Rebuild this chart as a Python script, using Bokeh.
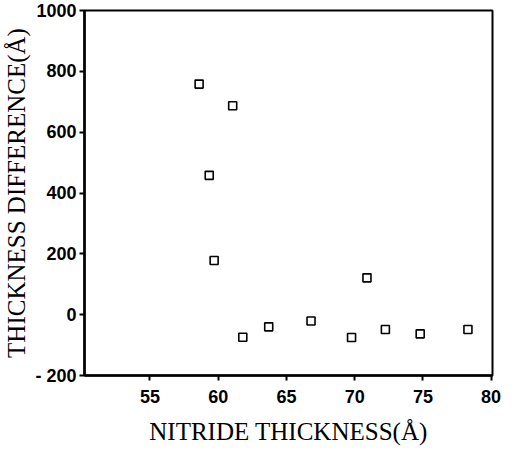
from bokeh.plotting import figure
from bokeh.models import ColumnDataSource, FixedTicker, Range1d
from bokeh.embed import file_html
from bokeh.resources import INLINE

nitride = [58.6, 61.06, 59.34, 59.7, 61.8, 63.7, 66.8, 69.77, 70.9, 72.25, 74.8, 78.3]
difference = [758, 687, 458, 178, -74, -40, -21, -75, 121, -49, -63, -49]
x_ticks = [55, 60, 65, 70, 75, 80]
y_ticks = [-200, 0, 200, 400, 600, 800, 1000]

src = ColumnDataSource(data=dict(x=nitride, y=difference))

p = figure(width=504, height=447, output_backend="svg", toolbar_location=None,
           x_range=Range1d(50.2, 80.1), y_range=Range1d(-200, 1000),
           min_border_left=80, min_border_right=12, min_border_top=10, min_border_bottom=70)

p.scatter("x", "y", source=src, marker="square", size=8, fill_color="white",
          line_color="black", line_width=1.6)

p.grid.visible = False
p.outline_line_color = "black"
p.outline_line_width = 2
p.background_fill_color = "white"
p.border_fill_color = "white"

for ax in (p.xaxis[0], p.yaxis[0]):
    ax.axis_line_width = 2.5
    ax.axis_line_color = "black"
    ax.major_tick_line_width = 2
    ax.major_tick_line_color = "black"
    ax.major_tick_out = 5
    ax.major_tick_in = 0
    ax.minor_tick_line_color = None
    ax.major_label_text_font = "Liberation Sans"
    ax.major_label_text_font_style = "bold"
    ax.major_label_text_font_size = "18px"
    ax.major_label_text_color = "black"
    ax.axis_label_text_font = "Liberation Serif"
    ax.axis_label_text_font_style = "normal"
    ax.axis_label_text_font_size = "25px"
    ax.axis_label_text_color = "black"

p.xaxis.ticker = FixedTicker(ticks=x_ticks)
p.yaxis.ticker = FixedTicker(ticks=y_ticks)
p.yaxis.major_label_overrides = {-200: "- 200"}
p.xaxis.major_label_standoff = 9
p.yaxis.major_label_standoff = 3
p.xaxis.axis_label = "NITRIDE THICKNESS(Å)"
p.yaxis.axis_label = "THICKNESS DIFFERENCE(Å)"
p.xaxis.axis_label_standoff = 12
p.yaxis.axis_label_standoff = 2

open("out.html", "w").write(file_html(p, INLINE))
